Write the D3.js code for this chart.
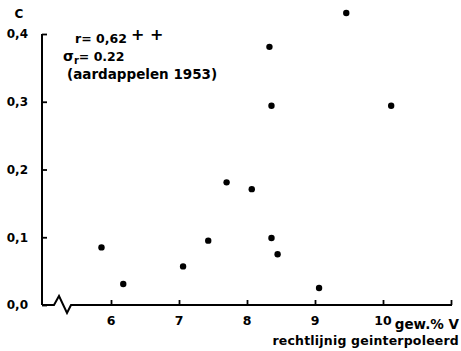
<!DOCTYPE html>
<html>
<head>
<meta charset="utf-8">
<script src="https://cdn.jsdelivr.net/npm/d3@7"></script>
<style>
  html, body { margin: 0; padding: 0; background: #fff; }
  svg text { font-family: "DejaVu Sans", "Liberation Sans", sans-serif; font-weight: bold; fill: #000; }
</style>
</head>
<body>
<svg id="chart" width="461" height="351"></svg>
<script>
// Measured gehalte (gew.% V) against coefficient C
const gehalte = [5.86, 6.18, 7.06, 7.43, 7.70, 8.07, 8.33, 8.36, 8.36, 8.45, 9.06, 9.46, 10.12];
const coefC   = [0.085, 0.031, 0.057, 0.095, 0.181, 0.171, 0.381, 0.294, 0.099, 0.075, 0.025, 0.431, 0.294];

const xTicks = [6, 7, 8, 9, 10, 11];
const xTickLabels = ["6", "7", "8", "9", "10", ""];
const yTicks = [0, 0.1, 0.2, 0.3, 0.4];
const yTickLabels = ["0,0", "0,1", "0,2", "0,3", "0,4"];

const svg = d3.select("#chart");

const axisX0 = 42;              // where the value axis stands
const x = d3.scaleLinear().domain([6, 11]).range([111, 451]);
const y = d3.scaleLinear().domain([0, 0.4]).range([305, 34]);

const ink = "#000";

// Value axis (C)
const yAxis = d3.axisRight(y)
  .tickValues(yTicks)
  .tickSize(5)
  .tickFormat("");
const gy = svg.append("g").attr("transform", `translate(${axisX0},0)`).call(yAxis);
gy.select(".domain").attr("d", `M0,${y(0)}V${y(0.4)}`).attr("stroke-width", 2);
gy.selectAll(".tick line").attr("stroke-width", 1.8);

svg.append("g").selectAll("text")
  .data(yTicks)
  .join("text")
  .attr("x", 28)
  .attr("y", d => y(d))
  .attr("dy", "0.36em")
  .attr("text-anchor", "end")
  .attr("font-size", 12)
  .text((d, i) => yTickLabels[i]);

svg.append("text")
  .attr("x", 19).attr("y", 18)
  .attr("text-anchor", "middle")
  .attr("font-size", 12)
  .text("C");

// Gehalte axis with a break just after the origin
const xAxis = d3.axisTop(x)
  .tickValues(xTicks)
  .tickSize(5)
  .tickFormat("");
const gx = svg.append("g").attr("transform", `translate(0,${y(0)})`).call(xAxis);
gx.select(".domain").remove();
gx.selectAll(".tick line").attr("stroke-width", 1.8);

const brk = d3.line()([
  [axisX0, 0], [54, 0], [59, -9], [67, 8], [71, 0], [x(11) + 1, 0]
]);
gx.append("path")
  .attr("d", brk)
  .attr("fill", "none")
  .attr("stroke", ink)
  .attr("stroke-width", 2)
  .attr("stroke-linejoin", "miter");

svg.append("g").selectAll("text")
  .data(xTicks)
  .join("text")
  .attr("x", d => x(d))
  .attr("y", 325)
  .attr("text-anchor", "middle")
  .attr("font-size", 12.5)
  .text((d, i) => xTickLabels[i]);

svg.append("text")
  .attr("x", 459).attr("y", 329)
  .attr("text-anchor", "end")
  .attr("font-size", 13.5)
  .text("gew.% V");

svg.append("text")
  .attr("x", 459).attr("y", 345)
  .attr("text-anchor", "end")
  .attr("font-size", 12.5)
  .attr("letter-spacing", 0.2)
  .text("rechtlijnig geinterpoleerd");

// Correlation note
const note = svg.append("g").attr("font-size", 12.5);
note.append("text").attr("x", 75).attr("y", 43).text("r= 0,62");
note.append("text").attr("x", 131).attr("y", 40).attr("font-size", 16).text("+ +");
const sig = note.append("text").attr("x", 63).attr("y", 61);
sig.append("tspan").attr("font-size", 14).text("σ");
sig.append("tspan").attr("font-size", 10).attr("dy", 3).text("r");
sig.append("tspan").attr("dy", -3).text("= 0.22");
note.append("text").attr("x", 67).attr("y", 79).attr("font-size", 13.5).text("(aardappelen 1953)");

// Observations
svg.append("g").selectAll("circle")
  .data(gehalte.map((g, i) => [g, coefC[i]]))
  .join("circle")
  .attr("cx", d => x(d[0]))
  .attr("cy", d => y(d[1]))
  .attr("r", 3.2)
  .attr("fill", ink);
</script>
</body>
</html>
